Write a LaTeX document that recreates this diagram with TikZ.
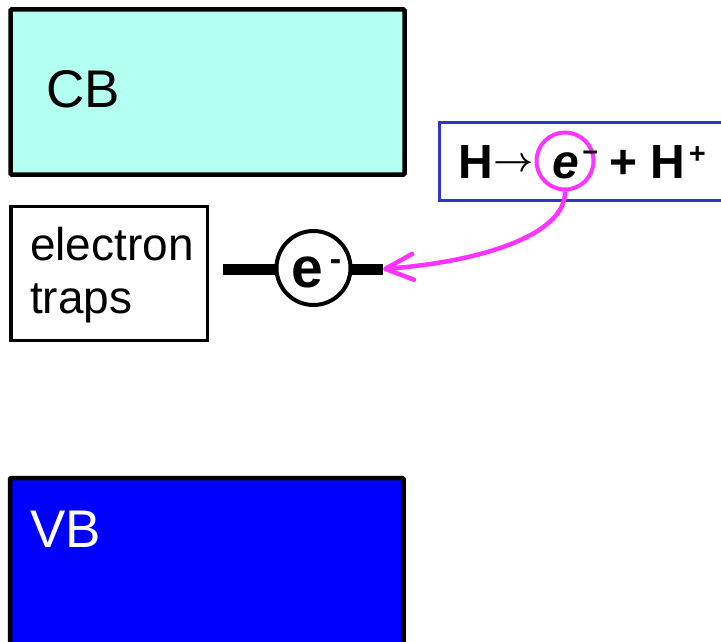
\documentclass[tikz,border=0pt]{standalone}
\usepackage{fontspec}
\usepackage{graphicx}
\setmainfont{Liberation Sans}
\usetikzlibrary{arrows.meta}
\definecolor{cbfill}{HTML}{B3FFF0}
\definecolor{vbfill}{HTML}{0000FF}
\definecolor{eqblue}{HTML}{3333CC}
\definecolor{mag}{HTML}{FF33FF}
\tikzset{
  bandbox/.style={draw=black, line width=4.5pt, rounded corners=1pt},
  bandlabel/.style={anchor=base west, inner sep=0pt, font=\fontsize{53}{60}\selectfont},
}
\begin{document}
\begin{tikzpicture}[x=1pt,y=-1pt]
\useasboundingbox (0,0) rectangle (721,642);
\clip (0,0) rectangle (721,642);
% conduction band
\draw[bandbox, fill=cbfill] (10.5,9.5) rectangle (404.5,174.5);
\node[bandlabel] (cb) at (46.5,108) {CB};
% valence band
\draw[bandbox, fill=vbfill] (10,478) rectangle (403.5,700);
\node[bandlabel, text=white] (vb) at (30,547) {VB};
% electron traps
\node[draw=black, line width=3.5pt, minimum width=196.5pt, minimum height=134pt, inner sep=0pt] (trapbox) at (109,273.5) {};
\node[anchor=base west, inner sep=0pt, align=left, font=\fontsize{46}{53}\selectfont] (traptext) at (30,313) {electron\\traps};
% trap level with electron
\coordinate (lineL) at (223,269);
\coordinate (lineR) at (383,269);
\draw[line width=11pt] (lineL) -- (lineR);
\node[circle, draw=black, line width=4pt, fill=white, minimum size=74pt, inner sep=0pt] (ecirc) at (313.5,268) {};
\node[anchor=base west, inner sep=0pt, font=\bfseries\fontsize{57}{60}\selectfont] (etext) at (291,287)
  {e\hspace{7pt}\raisebox{17pt}{\fontsize{34}{34}\selectfont -}};
% reaction box
\draw[eqblue, line width=3pt] (439,123) rectangle (760,200);
\node[circle, draw=mag, line width=4pt, minimum size=57pt, inner sep=0pt] (mcirc) at (565,161) {};
\node[anchor=base west, inner sep=0pt, font=\bfseries\fontsize{48}{56}\selectfont] (eq) at (458.5,178)
  {H\hspace{0pt}\raisebox{6pt}{\scalebox{3.5}{\normalsize\boldmath$\rightarrow$}}\hspace{19pt}\textit{e}\hspace{3pt}\raisebox{17pt}{\fontsize{27}{27}\selectfont −}\hspace{11.5pt}+\hspace{12.5pt}H\hspace{4pt}\raisebox{15pt}{\fontsize{29}{29}\selectfont +}};
% transfer arrow
\draw[mag, line width=4.5pt, -{Straight Barb[length=28pt, width=26pt, round]}] (mcirc.south) .. controls (566,235) and (480,262) .. (lineR);
\end{tikzpicture}
\end{document}
